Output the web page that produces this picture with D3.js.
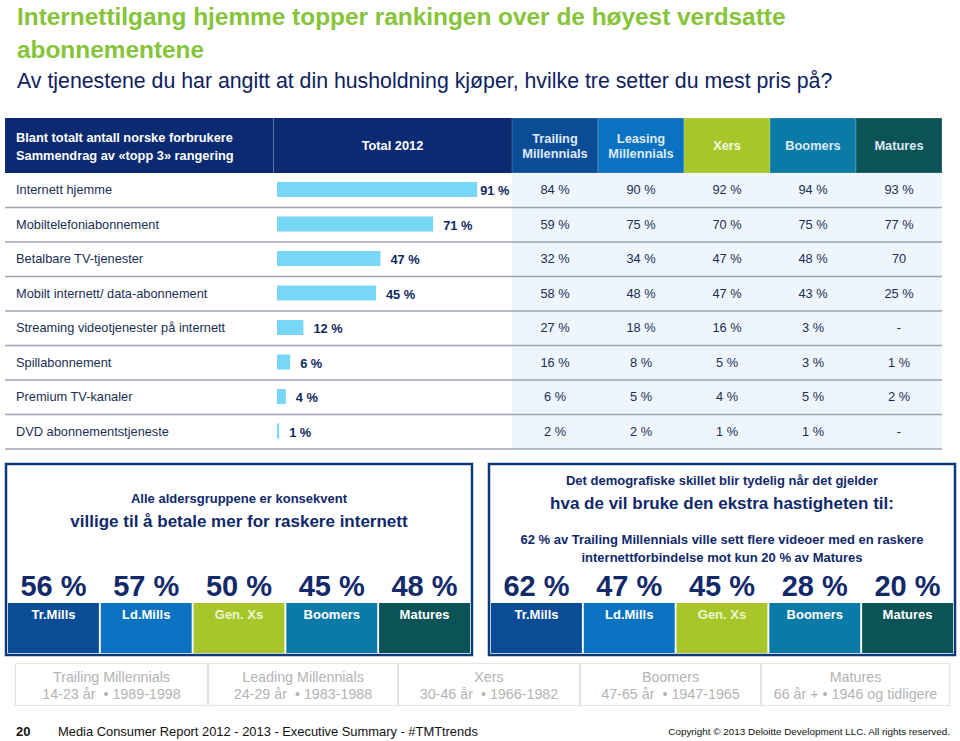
<!DOCTYPE html>
<html>
<head>
<meta charset="utf-8">
<script src="https://cdn.jsdelivr.net/npm/d3@7"></script>
<style>
  html, body { margin: 0; padding: 0; background: #ffffff; }
  svg { display: block; font-family: "Liberation Sans", Arial, sans-serif; }
</style>
</head>
<body>
<svg id="chart" width="960" height="741"></svg>
<script>
// ---------- DATA ----------
const titleLines = ["Internettilgang hjemme topper rankingen over de høyest verdsatte", "abonnementene"];
const subtitle = "Av tjenestene du har angitt at din husholdning kjøper, hvilke tre setter du mest pris på?";
const headerLeft = ["Blant totalt antall norske forbrukere", "Sammendrag av «topp 3» rangering"];
const totalHeader = "Total 2012";

const categories = [
  "Internett hjemme",
  "Mobiltelefoniabonnement",
  "Betalbare TV-tjenester",
  "Mobilt internett/ data-abonnement",
  "Streaming videotjenester på internett",
  "Spillabonnement",
  "Premium TV-kanaler",
  "DVD abonnementstjeneste"
];
const total2012 = [91, 71, 47, 45, 12, 6, 4, 1];

const groups = ["Trailing Millennials", "Leasing Millennials", "Xers", "Boomers", "Matures"];
const groupColors = ["#0b4c96", "#0b72c2", "#a8c62a", "#0a7aa6", "#0b5356"];
const trailingMill = ["84 %", "59 %", "32 %", "58 %", "27 %", "16 %", "6 %", "2 %"];
const leasingMill  = ["90 %", "75 %", "34 %", "48 %", "18 %", "8 %", "5 %", "2 %"];
const xers         = ["92 %", "70 %", "47 %", "47 %", "16 %", "5 %", "4 %", "1 %"];
const boomers      = ["94 %", "75 %", "48 %", "43 %", "3 %", "3 %", "5 %", "1 %"];
const matures      = ["93 %", "77 %", "70", "25 %", "-", "1 %", "2 %", "-"];

const shortGroups = ["Tr.Mills", "Ld.Mills", "Gen. Xs", "Boomers", "Matures"];
const payMoreLines = ["Alle aldersgruppene er konsekvent", "villige til å betale mer for raskere internett"];
const payMore = [56, 57, 50, 45, 48];
const videoLines = ["Det demografiske skillet blir tydelig når det gjelder", "hva de vil bruke den ekstra hastigheten til:",
  "62 % av Trailing Millennials ville sett flere videoer med en raskere", "internettforbindelse mot kun 20 % av Matures"];
const moreVideo = [62, 47, 45, 28, 20];

const legendNames = ["Trailing Millennials", "Leading Millennials", "Xers", "Boomers", "Matures"];
const legendAges  = ["14-23 år  • 1989-1998", "24-29 år  • 1983-1988", "30-46 år  • 1966-1982", "47-65 år  • 1947-1965", "66 år + • 1946 og tidligere"];

const footerPage = "20";
const footerText = "Media Consumer Report 2012 - 2013  - Executive Summary - #TMTtrends";
const copyright = "Copyright © 2013 Deloitte Development LLC. All rights reserved.";

// ---------- DRAW ----------
const svg = d3.select("#chart");
const textNavy = "#1b2f55";

// Title
svg.append("g").selectAll("text").data(titleLines).join("text")
  .attr("x", 17).attr("y", (d, i) => 25 + i * 33)
  .attr("font-size", 24.4).attr("font-weight", "bold").attr("fill", "#86c43a")
  .text(d => d);
svg.append("text").attr("x", 17).attr("y", 88)
  .attr("font-size", 21.3).attr("fill", "#0d2160").text(subtitle);

// Table geometry
const rowY = d3.scaleBand().domain(categories).range([173, 449]);
const colX = d3.scaleBand().domain(groups).range([512, 942]);
const barX = d3.scaleLinear().domain([0, 100]).range([277, 497]);
const headTop = 118, headBot = 173;

// Data-column background
svg.append("rect").attr("x", 512).attr("y", 173).attr("width", 430).attr("height", 276).attr("fill", "#eef5fc");

// Header
svg.append("rect").attr("x", 5).attr("y", headTop).attr("width", 507).attr("height", headBot - headTop).attr("fill", "#0a2a72");
svg.append("line").attr("x1", 273.5).attr("x2", 273.5).attr("y1", headTop).attr("y2", headBot).attr("stroke", "#5d73a8").attr("stroke-width", 1);
svg.append("g").selectAll("text").data(headerLeft).join("text")
  .attr("x", 16).attr("y", (d, i) => 142 + i * 18)
  .attr("font-size", 12.8).attr("font-weight", "bold").attr("fill", "#ffffff").text(d => d);
svg.append("text").attr("x", (273 + 512) / 2).attr("y", 150).attr("text-anchor", "middle")
  .attr("font-size", 12.8).attr("font-weight", "bold").attr("fill", "#ffffff").text(totalHeader);

const hg = svg.append("g").selectAll("g").data(groups).join("g");
hg.append("rect").attr("x", d => colX(d)).attr("y", headTop).attr("width", colX.bandwidth()).attr("height", headBot - headTop)
  .attr("fill", (d, i) => groupColors[i]).attr("stroke", "#ffffff").attr("stroke-opacity", 0.35).attr("stroke-width", 0.6);
hg.each(function(d, i) {
  const words = d.split(" ");
  const g = d3.select(this);
  const cx = colX(d) + colX.bandwidth() / 2;
  const fill = i === 2 ? "#f4f9e0" : "#dfe9f6";
  if (words.length === 2) {
    g.selectAll("text").data(words).join("text")
      .attr("x", cx).attr("y", (w, j) => 143 + j * 15).attr("text-anchor", "middle")
      .attr("font-size", 12.8).attr("font-weight", "bold").attr("fill", fill).text(w => w);
  } else {
    g.append("text").attr("x", cx).attr("y", 150).attr("text-anchor", "middle")
      .attr("font-size", 12.8).attr("font-weight", "bold").attr("fill", fill).text(d);
  }
});

// Row dividers
svg.append("g").selectAll("line").data(categories).join("line")
  .attr("x1", 5).attr("x2", 942)
  .attr("y1", d => rowY(d) + rowY.bandwidth()).attr("y2", d => rowY(d) + rowY.bandwidth())
  .attr("stroke", "#9aa5b1").attr("stroke-width", 1.3);

// Row labels
svg.append("g").selectAll("text").data(categories).join("text")
  .attr("x", 16).attr("y", d => rowY(d) + rowY.bandwidth() / 2 + 4)
  .attr("font-size", 12.8).attr("fill", textNavy).text(d => d);

// Bars
svg.append("g").selectAll("rect").data(total2012).join("rect")
  .attr("x", barX(0)).attr("y", (d, i) => rowY(categories[i]) + 9)
  .attr("width", d => barX(d) - barX(0)).attr("height", 15)
  .attr("fill", "#78d7f7");
svg.append("g").selectAll("text").data(total2012).join("text")
  .attr("x", (d, i) => barX(d) + (i === 0 ? 3 : 10))
  .attr("y", (d, i) => rowY(categories[i]) + 22)
  .attr("font-size", 12.8).attr("font-weight", "bold").attr("fill", "#102a60")
  .text(d => d + " %");

// Group values
const groupValues = [trailingMill, leasingMill, xers, boomers, matures];
groupValues.forEach((vals, gi) => {
  svg.append("g").selectAll("text").data(vals).join("text")
    .attr("x", colX(groups[gi]) + colX.bandwidth() / 2)
    .attr("y", (d, i) => rowY(categories[i]) + rowY.bandwidth() / 2 + 4)
    .attr("text-anchor", "middle").attr("font-size", 12.8).attr("fill", textNavy).text(d => d);
});

// Bottom boxes
function drawBox(x0, x1, lines, lineSpec, values) {
  const top = 464, bot = 655;
  svg.append("rect").attr("x", x0).attr("y", top).attr("width", x1 - x0).attr("height", bot - top)
    .attr("fill", "#ffffff").attr("stroke", "#0d3a78").attr("stroke-width", 2.5);
  const cx = (x0 + x1) / 2;
  svg.append("g").selectAll("text").data(lines).join("text")
    .attr("x", cx).attr("y", (d, i) => lineSpec[i].y).attr("text-anchor", "middle")
    .attr("font-size", (d, i) => lineSpec[i].size).attr("font-weight", "bold").attr("fill", "#10296a").text(d => d);
  const bx = d3.scaleBand().domain(shortGroups).range([x0 + 2, x1 - 2]).paddingInner(0.02);
  const g = svg.append("g");
  g.selectAll("rect").data(shortGroups).join("rect")
    .attr("x", d => bx(d)).attr("y", 603).attr("width", bx.bandwidth()).attr("height", 50)
    .attr("fill", (d, i) => groupColors[i]);
  g.selectAll("text.lab").data(shortGroups).join("text").attr("class", "lab")
    .attr("x", d => bx(d) + bx.bandwidth() / 2).attr("y", 619).attr("text-anchor", "middle")
    .attr("font-size", 13).attr("font-weight", "bold").attr("fill", (d, i) => i === 2 ? "#eef5d0" : "#ffffff").text(d => d);
  g.selectAll("text.val").data(values).join("text").attr("class", "val")
    .attr("x", (d, i) => bx(shortGroups[i]) + bx.bandwidth() / 2).attr("y", 596).attr("text-anchor", "middle")
    .attr("font-size", 29).attr("font-weight", "bold").attr("fill", "#12296a").text(d => d + " %");
}
drawBox(6, 472, payMoreLines, [{y: 503, size: 13}, {y: 527, size: 17}], payMore);
drawBox(489, 955, videoLines, [{y: 485, size: 13}, {y: 509, size: 17}, {y: 544, size: 13}, {y: 562, size: 13}], moreVideo);

// Legend boxes
const legX = [15, 208, 398, 580, 761, 950];
const lg = svg.append("g").selectAll("g").data(legendNames).join("g");
lg.append("rect").attr("x", (d, i) => legX[i] + 0.5).attr("y", 663.5)
  .attr("width", (d, i) => legX[i + 1] - legX[i] - 1).attr("height", 42)
  .attr("fill", "#ffffff").attr("stroke", "#e4e4e0").attr("stroke-width", 1.2);
lg.append("text").attr("x", (d, i) => (legX[i] + legX[i + 1]) / 2).attr("y", 682).attr("text-anchor", "middle")
  .attr("font-size", 14.3).attr("fill", "#b4b4b4").text(d => d);
lg.append("text").attr("x", (d, i) => (legX[i] + legX[i + 1]) / 2).attr("y", 699).attr("text-anchor", "middle")
  .attr("font-size", 14.3).attr("fill", "#b4b4b4").style("white-space", "pre")
  .text((d, i) => legendAges[i]);

// Footer
svg.append("text").attr("x", 16).attr("y", 736).attr("font-size", 13).attr("font-weight", "bold")
  .attr("fill", "#111").text(footerPage);
svg.append("text").attr("x", 58).attr("y", 736).attr("font-size", 12.9)
  .attr("fill", "#111").text(footerText);
svg.append("text").attr("x", 950).attr("y", 735).attr("text-anchor", "end").attr("font-size", 9.9)
  .attr("fill", "#111").text(copyright);
</script>
</body>
</html>
